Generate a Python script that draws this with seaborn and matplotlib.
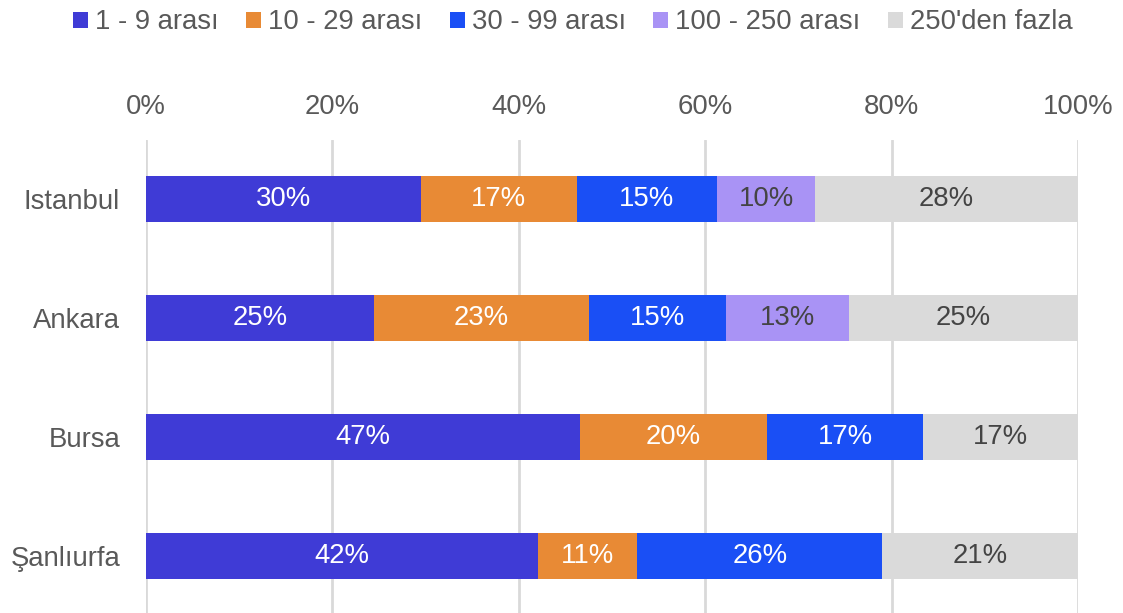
import numpy as np
import pandas as pd
import matplotlib
matplotlib.use("Agg")
import matplotlib.pyplot as plt
from matplotlib.patches import Patch
import seaborn as sns

cities = ["Istanbul", "Ankara", "Bursa", "Şanlıurfa"]
series = ["1 - 9 arası", "10 - 29 arası", "30 - 99 arası", "100 - 250 arası", "250'den fazla"]
v_1_9 = [29.5, 24.5, 46.6, 42.1]
v_10_29 = [16.7, 23.0, 20.0, 10.6]
v_30_99 = [15.1, 14.7, 16.8, 26.3]
v_100_250 = [10.5, 13.2, 0.0, 0.0]
v_250 = [28.2, 24.6, 16.6, 21.0]
labels = [
    ["30%", "17%", "15%", "10%", "28%"],
    ["25%", "23%", "15%", "13%", "25%"],
    ["47%", "20%", "17%", "", "17%"],
    ["42%", "11%", "26%", "", "21%"],
]
xticks = [0, 20, 40, 60, 80, 100]
xtick_labels = ["0%", "20%", "40%", "60%", "80%", "100%"]

colors = ["#3f3bd6", "#e88a35", "#1a4ff5", "#a993f5", "#dadada"]
text_colors = ["white", "white", "white", "#444444", "#444444"]
FS = 19.8

sns.set_theme(style="white")
plt.rcParams["font.family"] = ["Liberation Sans", "DejaVu Sans"]

vals = np.array([v_1_9, v_10_29, v_30_99, v_100_250, v_250])  # series x city
cum = np.cumsum(vals, axis=0)

fig = plt.figure(figsize=(11.23, 6.13), dpi=100)
ax = fig.add_axes([146 / 1123, (613 - 615.5) / 613, (1078 - 146) / 1123, 476 / 613])

for i in range(len(series) - 1, -1, -1):
    df = pd.DataFrame({"city": cities, "val": cum[i]})
    sns.barplot(data=df, x="val", y="city", color=colors[i], orient="h",
                width=0.39, saturation=1, ax=ax, zorder=3, linewidth=0)

for j, city in enumerate(cities):
    for i in range(len(series)):
        if vals[i, j] <= 0:
            continue
        left = cum[i, j] - vals[i, j]
        ax.text(left + vals[i, j] / 2, j, labels[j][i], ha="center", va="center",
                fontsize=FS, color=text_colors[i], zorder=5)

ax.set_xlim(0, 100)
ax.set_ylim(3.5, -0.5)
ax.set_xticks(xticks)
ax.set_xticklabels(xtick_labels)
ax.xaxis.tick_top()
ax.tick_params(axis="x", length=0, pad=14, labelsize=FS, labelcolor="#595959")
ax.tick_params(axis="y", length=0, pad=18.7, labelsize=FS, labelcolor="#595959")
ax.set_xlabel("")
ax.set_ylabel("")
ax.grid(axis="x", color="#d9d9d9", linewidth=2, zorder=0)
ax.set_axisbelow(True)
for s in ax.spines.values():
    s.set_visible(False)

handles = [Patch(facecolor=c, edgecolor="none") for c in colors]
fig.legend(handles, series, loc="upper center", bbox_to_anchor=(0.51, 1.025), ncol=5,
           frameon=False, fontsize=FS, handlelength=0.55, handleheight=0.5,
           handletextpad=0.25, columnspacing=1.0, labelcolor="#595959")

fig.savefig("out.png", dpi=100)
